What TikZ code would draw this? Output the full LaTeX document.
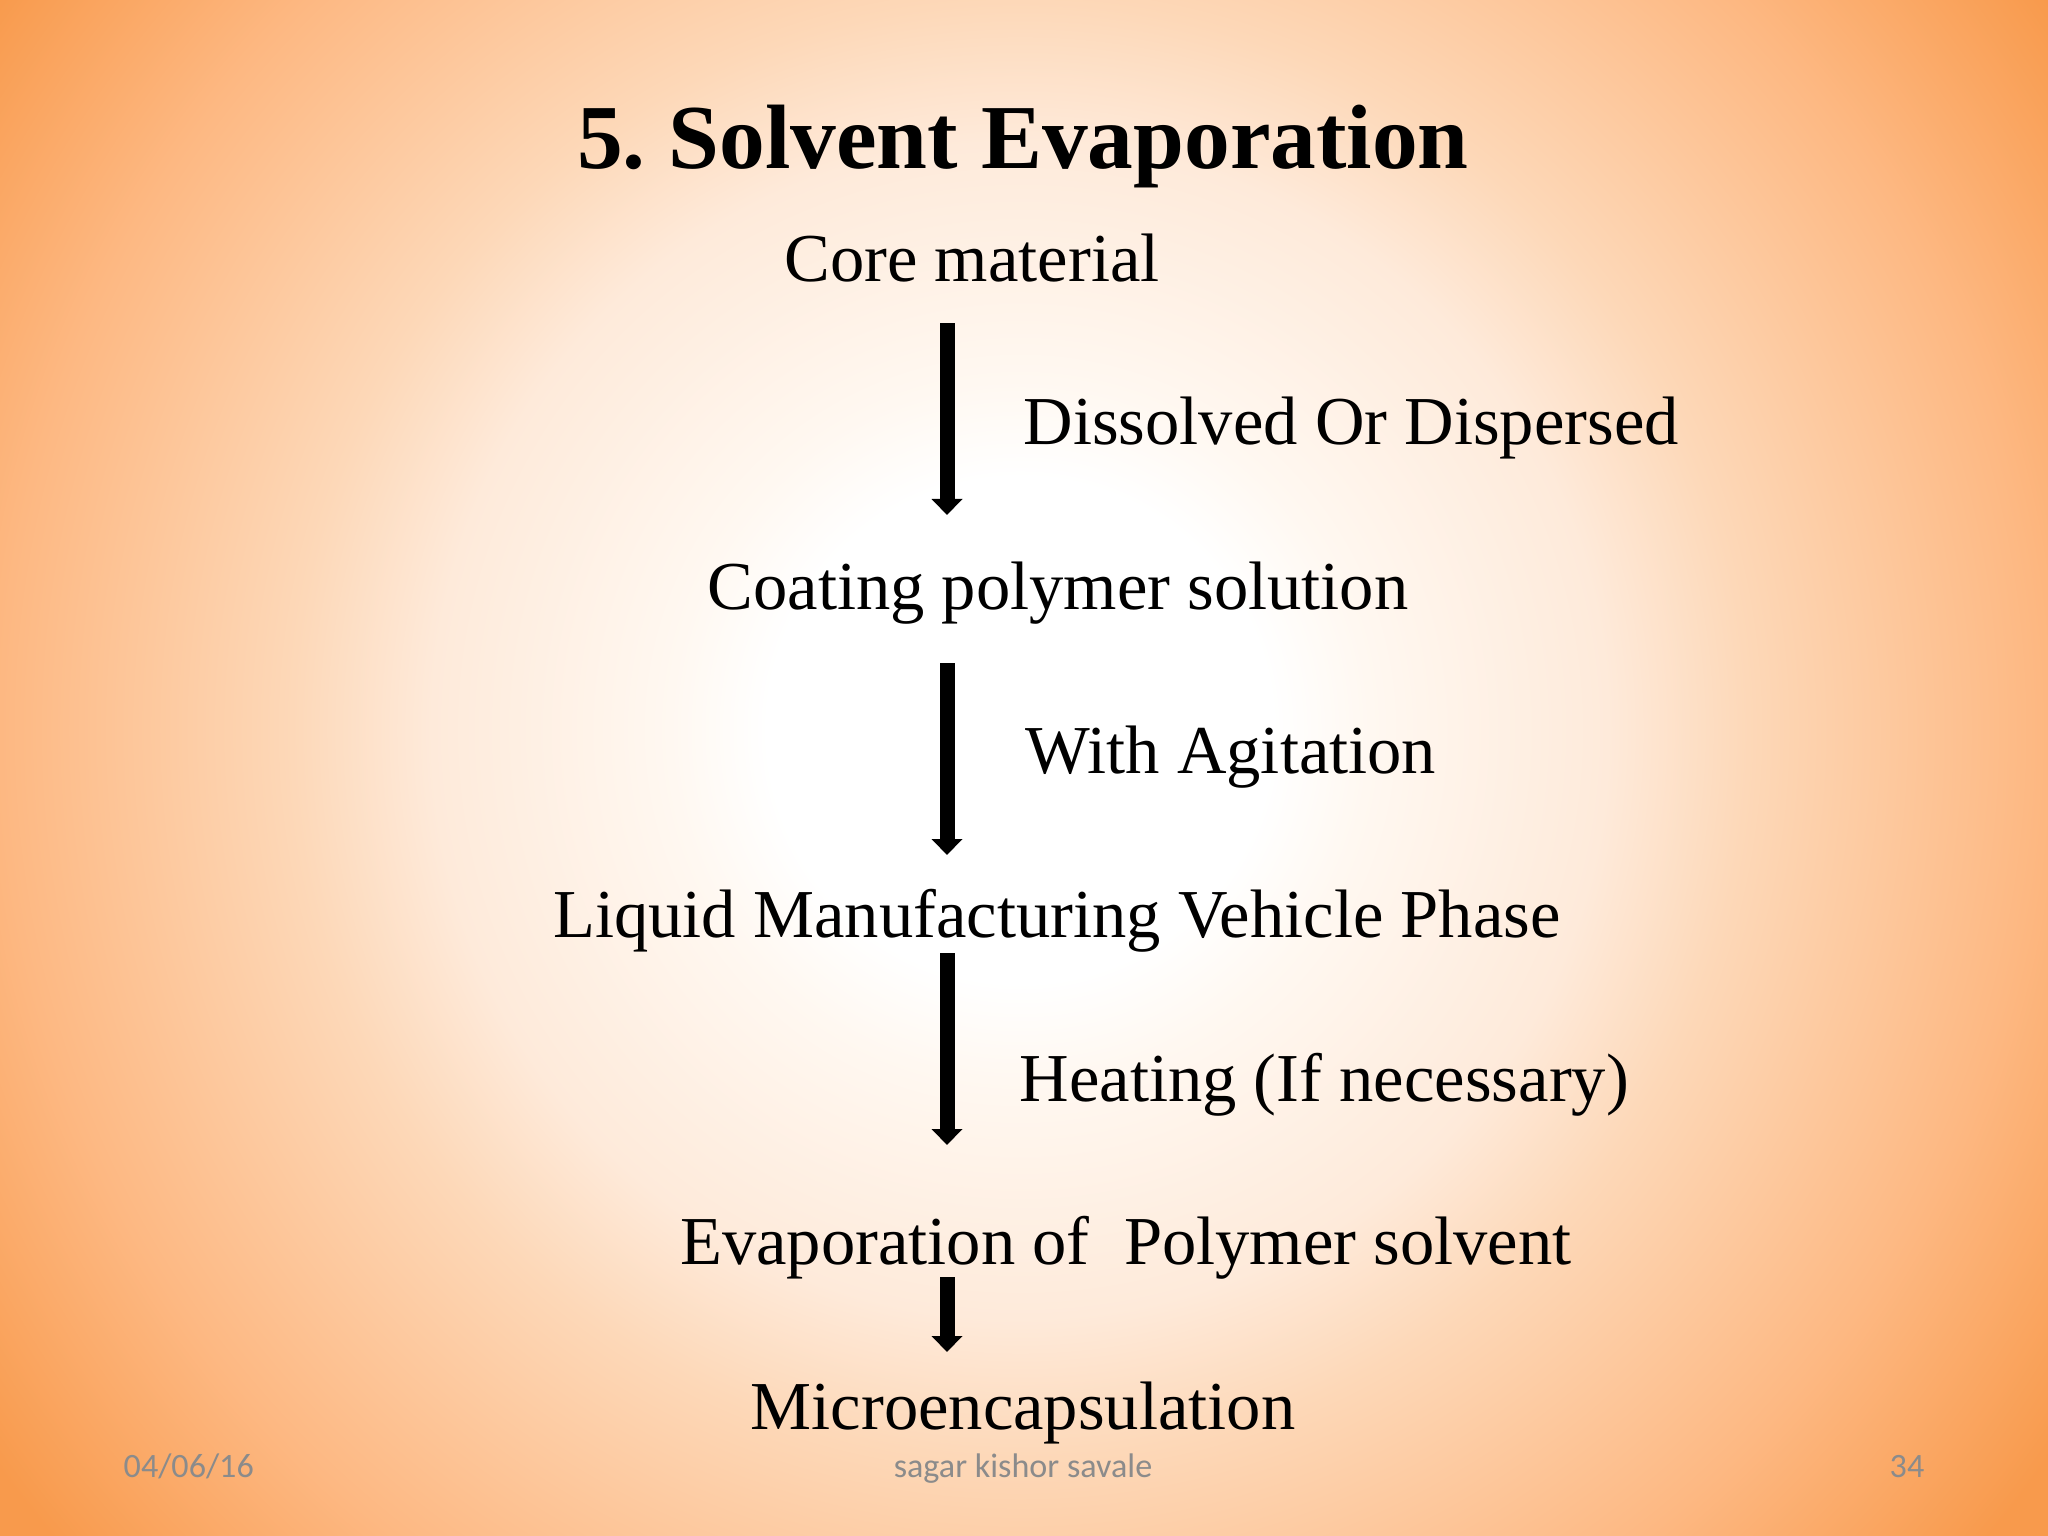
\documentclass[tikz,border=0pt]{standalone}
\usepackage{fontspec}
\setmainfont{Liberation Serif}
\newfontfamily\footfont{Carlito}
\usetikzlibrary{arrows.meta,calc}
\definecolor{bgA}{HTML}{FFFFFF}
\definecolor{bgB}{HTML}{FFF8F1}
\definecolor{bgC}{HTML}{FEEADA}
\definecolor{bgD}{HTML}{FDD8B8}
\definecolor{bgE}{HTML}{FDB882}
\definecolor{bgF}{HTML}{F89A4C}
\definecolor{footgray}{HTML}{8B8B8B}
\pgfdeclareradialshading{slidebg}{\pgfpoint{0bp}{0bp}}{%
  color(0bp)=(bgA); color(4.5bp)=(bgA); color(6.25bp)=(bgB); color(10.5bp)=(bgC);
  color(13bp)=(bgD); color(18.2bp)=(bgE); color(22.5bp)=(bgF); color(50bp)=(bgF)}
\frenchspacing
\begin{document}
\begin{tikzpicture}[x=0.01cm,y=-0.01cm,
    titletext/.style={anchor=base,inner sep=0pt,font=\fontsize{26}{30}\selectfont\bfseries},
    stage/.style={anchor=base,inner sep=0pt,font=\fontsize{19.5}{23}\selectfont},
    cond/.style={stage,anchor=base west},
    foot/.style={anchor=base,inner sep=0pt,text=footgray,font=\footfont\fontsize{9.7}{11}\selectfont},
    flow/.style={line width=0.15cm,-{Triangle[width=0.3cm,length=0.16cm]}}]
  \useasboundingbox (0,0) rectangle (2048,1536);
  \clip (0,0) rectangle (2048,1536);
  \path[shading=slidebg] (-380,-670) rectangle (2420,2130);
  \node[titletext] (title) at (1023,168) {5. Solvent Evaporation};
  \node[stage] (core) at (972,281) {Core material};
  \node[stage] (coat) at (1058,609) {Coating polymer solution};
  \node[stage] (liquid) at (1057,937) {Liquid Manufacturing Vehicle Phase};
  \node[stage] (evap) at (1126,1264) {Evaporation of~ Polymer solvent};
  \node[stage] (micro) at (1023,1429) {Microencapsulation};
  \node[cond] (dissolve) at (1023,444) {Dissolved Or Dispersed};
  \node[cond] (agitate) at (1025,773) {With Agitation};
  \node[cond] (heat) at (1019,1101) {Heating (If necessary)};
  \coordinate (ax) at (947,0);
  \begin{scope}
    \draw[flow] ($(core.base -| ax)+(0,42)$) -- ($(coat.base -| ax)+(0,-94)$);
    \draw[flow] ($(coat.base -| ax)+(0,54)$) -- ($(liquid.base -| ax)+(0,-82)$);
    \draw[flow] ($(liquid.base -| ax)+(0,16)$) -- ($(evap.base -| ax)+(0,-119)$);
    \draw[flow] ($(evap.base -| ax)+(0,13)$) -- ($(micro.base -| ax)+(0,-77)$);
  \end{scope}
  \node[foot,anchor=base west] (date) at (123,1477) {04/06/16};
  \node[foot] (author) at (1023,1477) {sagar kishor savale};
  \node[foot] (page) at (1907,1477) {34};
\end{tikzpicture}
\end{document}
